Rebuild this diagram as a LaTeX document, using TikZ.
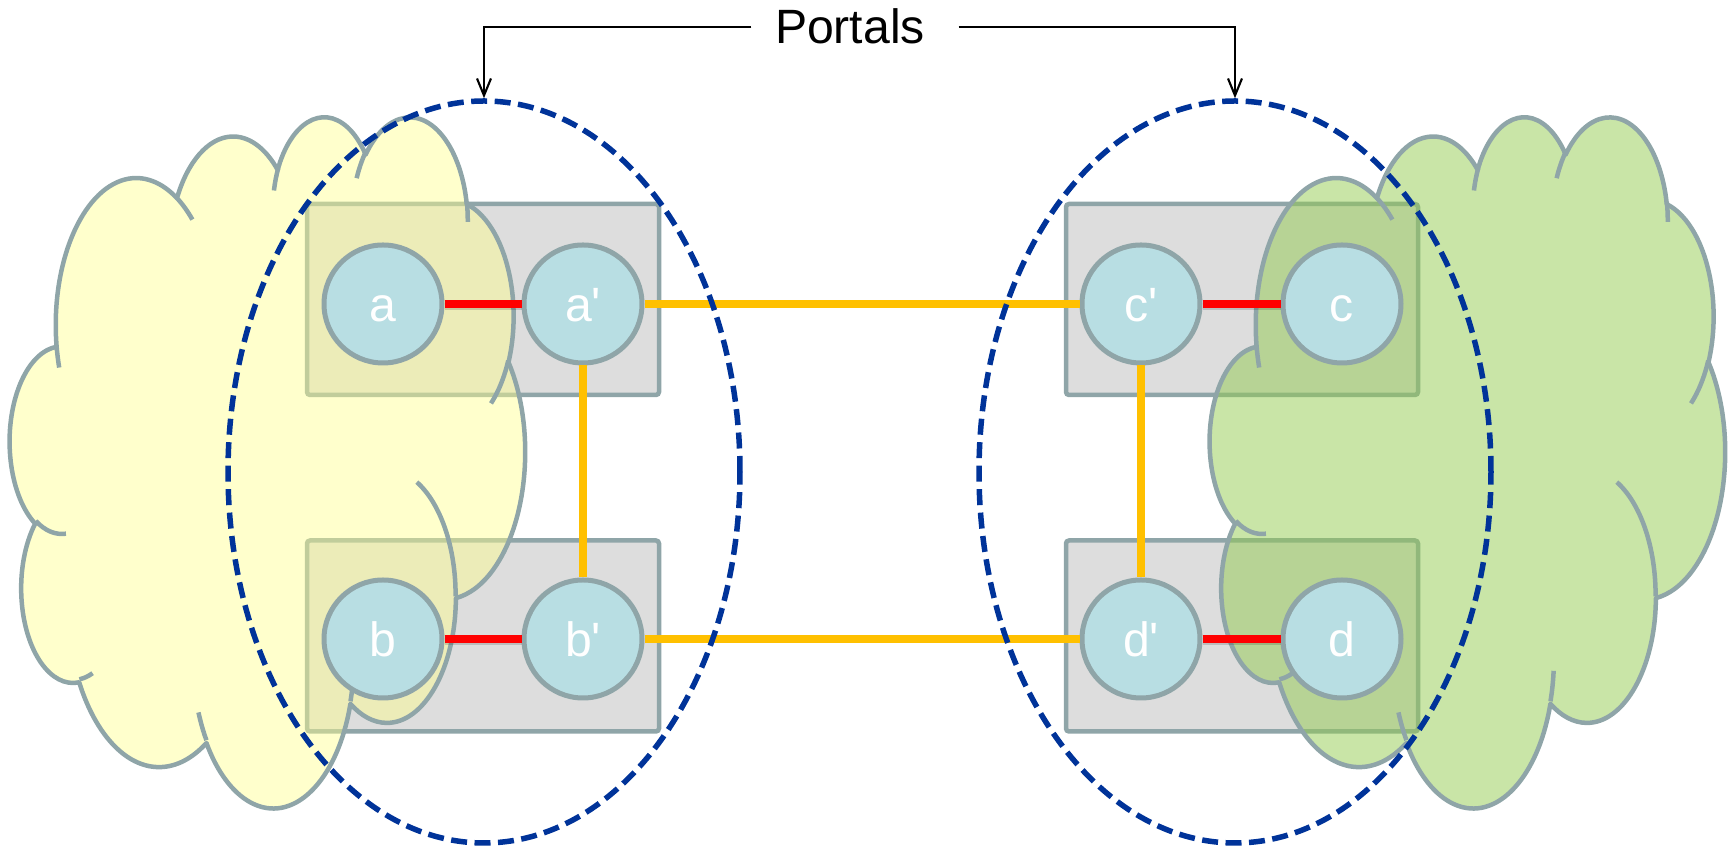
\documentclass[tikz,border=0pt]{standalone}
\usepackage{fontspec}
\newfontfamily\arialfont{Liberation Sans}
\usepackage{tikz}
\usetikzlibrary{arrows.meta,shapes.geometric}
\definecolor{edge}{HTML}{8FA5A8}
\definecolor{boxgray}{HTML}{DDDDDD}
\definecolor{vfill}{HTML}{B8DEE3}
\definecolor{cyel}{HTML}{FFFF8D}
\definecolor{cgrn}{HTML}{93CB4F}
\definecolor{pnavy}{HTML}{003399}
\definecolor{amber}{HTML}{FFC000}
\newcommand\portalfont{\arialfont\fontsize{13.7pt}{16pt}\selectfont}

% cloud outline from elliptic arcs: radii and ray angles in a 432x432 frame
\newcommand\cloudpath{}
\newcommand\cloudhooks{}
\newcommand\addarc[5]{%
  \pgfmathsetmacro\cldS{atan2(#2*sin(#4),#3*cos(#4))}%
  \pgfmathsetmacro\cldE{atan2(#2*sin(#4+#5),#3*cos(#4+#5))}%
  \pgfmathsetmacro\cldD{\cldE-\cldS}%
  \pgfmathsetmacro\cldD{\cldD-360*round((\cldD-(#5))/360)}%
  \xdef#1{#1 arc[x radius=#2,y radius=#3,start angle=\cldS,delta angle=\cldD]}}
\newcommand\addhook[6]{\xdef\cloudhooks{\cloudhooks (#1,#2)}\addarc\cloudhooks{#3}{#4}{#5}{#6}}
\addarc\cloudpath{67.53}{91.90}{-190.487}{123.781}
\addarc\cloudpath{53.33}{72.67}{-144.102}{89.945}
\addarc\cloudpath{43.65}{59.45}{-145.808}{99.723}
\addarc\cloudpath{48.57}{65.95}{-130.986}{117.242}
\addarc\cloudpath{53.33}{72.73}{-78.709}{109.027}
\addarc\cloudpath{67.75}{92.20}{-46.267}{130.269}
\addarc\cloudpath{57.85}{78.67}{0.625}{114.033}
\addarc\cloudpath{67.52}{92.15}{22.452}{115.173}
\addarc\cloudpath{77.20}{105.43}{66.243}{75.711}
\addarc\cloudpath{43.60}{59.18}{-274.942}{146.736}
\addarc\cloudpath{43.45}{59.45}{-246.829}{152.519}
% inner strokes of the cloud
\addhook{46.93}{261.77}{43.45}{59.45}{86.742}{26.430}
\addhook{69.28}{348.99}{43.60}{59.18}{73.610}{11.447}
\addhook{164.78}{390.90}{67.52}{92.15}{137.624}{14.081}
\addhook{288.27}{347.51}{67.52}{92.15}{6.453}{15.998}
\addhook{341.29}{229.54}{57.85}{78.67}{-70.292}{70.917}
\addhook{417.98}{153.54}{53.33}{72.73}{30.318}{27.752}
\addhook{383.24}{54.26}{48.57}{65.95}{-13.744}{14.859}
\addhook{290.78}{39.52}{48.57}{65.95}{-149.181}{18.195}
\addhook{221.41}{47.20}{43.65}{59.45}{-163.494}{17.686}
\addhook{140.00}{51.92}{67.53}{91.90}{-66.707}{12.319}
\addhook{41.27}{157.89}{67.53}{91.90}{157.654}{11.858}

\tikzset{
  >={Straight Barb[length=1.7mm,width=1.4mm]},
  pbox/.style={draw=edge,fill=boxgray,line width=0.45mm,rounded corners=0.3mm,minimum width=35.2mm,minimum height=19.1mm,inner sep=0pt},
  vert/.style={circle,draw=edge,fill=vfill,line width=0.5mm,minimum size=11.8mm,inner sep=0pt,text=white,font=\portalfont,text height=3.7mm,text depth=0.2mm},
  cloudline/.style={draw=edge,line width=0.45mm,line join=round},
  bridge/.style={draw=red,line width=0.8mm},
  bshadow/.style={draw=black,opacity=0.15,line width=0.7mm,transform canvas={yshift=-0.3mm}},
  tunnel/.style={draw=amber,line width=0.75mm},
  portal/.style={ellipse,draw=pnavy,line width=0.55mm,dash pattern=on 1.6mm off 0.75mm,minimum width=51.2mm,minimum height=74.2mm,inner sep=0pt},
  pointer/.style={->,draw=black,line width=0.6pt},
}

\begin{document}
\begin{tikzpicture}[x=0.1mm,y=-0.1mm]
\useasboundingbox (0,0) rectangle (1732,849);
% gateway boxes
\node[pbox] (abox) at (483,299.5) {};
\node[pbox] (bbox) at (483,636) {};
\node[pbox] (cbox) at (1242,299.5) {};
\node[pbox] (dbox) at (1242,636) {};
% the two networks
\begin{scope}[shift={(10,115)},xscale=1.1921,yscale=1.5995]
  \path[cloudline,fill=cyel,fill opacity=0.45] (39,143.7) \cloudpath -- cycle;
  \draw[cloudline] \cloudhooks;
\end{scope}
\begin{scope}[shift={(1210,115)},xscale=1.1921,yscale=1.5995]
  \path[cloudline,fill=cgrn,fill opacity=0.5] (39,143.7) \cloudpath -- cycle;
  \draw[cloudline] \cloudhooks;
\end{scope}
% hosts
\node[vert] (a) at (383,304) {a};
\node[vert] (ap) at (583,304) {a\textquotesingle};
\node[vert] (b) at (383,639) {b};
\node[vert] (bp) at (583,639) {b\textquotesingle};
\node[vert] (cp) at (1141,304) {c\textquotesingle};
\node[vert] (c) at (1342,304) {c};
\node[vert] (dp) at (1141,639) {d\textquotesingle};
\node[vert] (d) at (1342,639) {d};
\draw[bshadow](a)--(ap); \draw[bshadow](b)--(bp); \draw[bshadow](cp)--(c); \draw[bshadow](dp)--(d);
\draw[bridge](a)--(ap); \draw[bridge](b)--(bp); \draw[bridge](cp)--(c); \draw[bridge](dp)--(d);
\draw[tunnel](ap)--(cp); \draw[tunnel](bp)--(dp); \draw[tunnel](ap)--(bp); \draw[tunnel](cp)--(dp);
% portals
\node[portal] (lportal) at (484,472) {};
\node[portal] (rportal) at (1235,472) {};
\node[font=\portalfont,anchor=base,inner sep=0pt] (portals) at (850,44) {Portals};
\draw[pointer] ([xshift=-2.3mm]portals.west) -| (lportal.north);
\draw[pointer] ([xshift=3.3mm]portals.east) -| (rportal.north);
\end{tikzpicture}
\end{document}
